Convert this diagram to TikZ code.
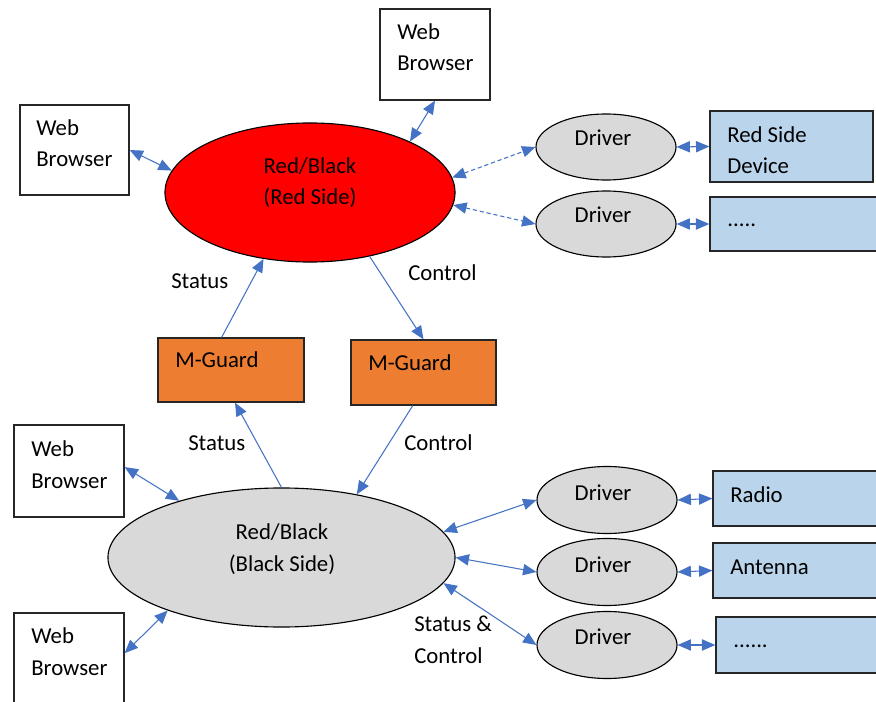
\documentclass[tikz,border=0pt]{standalone}
\usepackage{fontspec}
\setmainfont{Carlito}
\usetikzlibrary{arrows.meta,shapes.geometric}

\definecolor{linkblue}{HTML}{4472C4}
\definecolor{sidered}{HTML}{FF0000}
\definecolor{sidegray}{HTML}{D9D9D9}
\definecolor{guardorange}{HTML}{ED7D31}
\definecolor{devblue}{RGB}{186,212,236}

\tikzset{
  box/.style={draw=black!85, line width=0.9pt, rectangle, inner sep=0pt},
  oval/.style={draw=black, line width=0.8pt, ellipse, inner sep=0pt},
  txt/.style={inner sep=0pt, anchor=base west, align=left},
  link/.style={linkblue, line width=0.75pt, <->, >={Triangle[length=9.5pt,width=8pt]}},
  oneway/.style={linkblue, line width=0.75pt, ->, >={Triangle[length=9.5pt,width=8pt]}},
}

\begin{document}
\begin{tikzpicture}[x=0.025cm, y=-0.025cm, font=\fontsize{16.2}{22.7}\selectfont]
  \useasboundingbox (0,0) rectangle (876,702);

  % red side
  \node[oval, fill=sidered, minimum width=7.25cm, minimum height=3.475cm] (red) at (310,192.5) {};
  \node[box, minimum width=2.75cm, minimum height=2.275cm] (tb) at (435,54.5) {};
  \node[box, minimum width=2.725cm, minimum height=2.25cm] (lb1) at (74.5,150) {};
  \node[oval, fill=sidegray, minimum width=3.5cm, minimum height=1.65cm] (drv1) at (606,147) {};
  \node[oval, fill=sidegray, minimum width=3.5cm, minimum height=1.65cm] (drv2) at (606,224) {};
  \node[box, fill=devblue, minimum width=4.075cm, minimum height=1.775cm] (rsd) at (791.5,146.5) {};
  \node[box, fill=devblue, minimum width=4.2cm, minimum height=1.35cm] (dots1) at (794,224) {};

  % guards
  \node[box, fill=guardorange, minimum width=3.65cm, minimum height=1.6cm] (mgl) at (231,370) {};
  \node[box, fill=guardorange, minimum width=3.625cm, minimum height=1.625cm] (mgr) at (423.5,372.5) {};

  % black side
  \node[oval, fill=sidegray, minimum width=8.675cm, minimum height=3.475cm] (black) at (281.5,557.5) {};
  \node[box, minimum width=2.75cm, minimum height=2.3cm] (lb2) at (69,471) {};
  \node[box, minimum width=2.75cm, minimum height=2.3cm] (lb3) at (69,659) {};
  \node[oval, fill=sidegray, minimum width=3.5cm, minimum height=1.675cm] (drvA) at (607,500) {};
  \node[oval, fill=sidegray, minimum width=3.5cm, minimum height=1.675cm] (drvB) at (607,572) {};
  \node[oval, fill=sidegray, minimum width=3.5cm, minimum height=1.675cm] (drvC) at (607,645) {};
  \node[box, fill=devblue, minimum width=4.15cm, minimum height=1.375cm] (radio) at (796,498.5) {};
  \node[box, fill=devblue, minimum width=4.15cm, minimum height=1.375cm] (ant) at (796,570.5) {};
  \node[box, fill=devblue, minimum width=4.15cm, minimum height=1.4cm] (dots2) at (799,645) {};

  % texts (two-line nodes sit on their last baseline)
  \node[txt] (tb-t) at (397,71) {Web\\Browser};
  \node[txt] (lb1-t) at (36,167) {Web\\Browser};
  \node[txt] (lb2-t) at (31,488) {Web\\Browser};
  \node[txt] (lb3-t) at (31,675) {Web\\Browser};
  \node[txt, anchor=base, align=center] (red-t) at (310,205) {Red/Black\\(Red Side)};
  \node[txt, anchor=base, align=center] (black-t) at (282,571) {Red/Black\\(Black Side)};
  \node[txt, anchor=base] (drv1-t) at (603,146) {Driver};
  \node[txt, anchor=base] (drv2-t) at (603,223) {Driver};
  \node[txt, anchor=base] (drvA-t) at (603,500) {Driver};
  \node[txt, anchor=base] (drvB-t) at (603,572) {Driver};
  \node[txt, anchor=base] (drvC-t) at (603,644) {Driver};
  \node[txt] (rsd-t) at (727,174) {Red Side\\Device};
  \node[txt] (dots1-t) at (727,227) {.....};
  \node[txt] (mgl-t) at (175,367) {M-Guard};
  \node[txt] (mgr-t) at (368,370) {M-Guard};
  \node[txt] (radio-t) at (730,502) {Radio};
  \node[txt] (ant-t) at (730,574) {Antenna};
  \node[txt] (dots2-t) at (733,647) {......};

  \node[txt] (st1) at (171,289) {Status};
  \node[txt] (ct1) at (408,280) {Control};
  \node[txt] (st2) at (188,450) {Status};
  \node[txt] (ct2) at (404,450) {Control};
  \node[txt] (stct) at (414,663) {Status \&\\Control};

  % connectors
  \draw[link] (tb.south) -- (red.27);
  \draw[link] (lb1.east) -- (red.171);
  \draw[link, dash pattern=on 3pt off 2pt] (red.6) -- (drv1.west);
  \draw[link, dash pattern=on 3pt off 2pt] (red.355) -- (drv2.west);
  \draw[link] (drv1.east) -- (rsd.west);
  \draw[link] (drv2.east) -- (dots1.west);

  \draw[oneway] (mgl.106) -- (red.235);
  \draw[oneway] (red.313) -- (mgr.north);
  \draw[oneway] (black.north) -- (mgl.277);
  \draw[oneway] (mgr.252) -- (black.40);

  \draw[link] (lb2.4) -- (black.151);
  \draw[link] (lb3.6) -- (black.205);
  \draw[link] (black.9) -- (drvA.west);
  \draw[link] (black.east) -- (drvB.west);
  \draw[link] (black.351) -- (drvC.west);
  \draw[link] (drvA.east) -- (radio.west);
  \draw[link] (drvB.east) -- (ant.west);
  \draw[link] (drvC.east) -- (dots2.west);
\end{tikzpicture}
\end{document}
